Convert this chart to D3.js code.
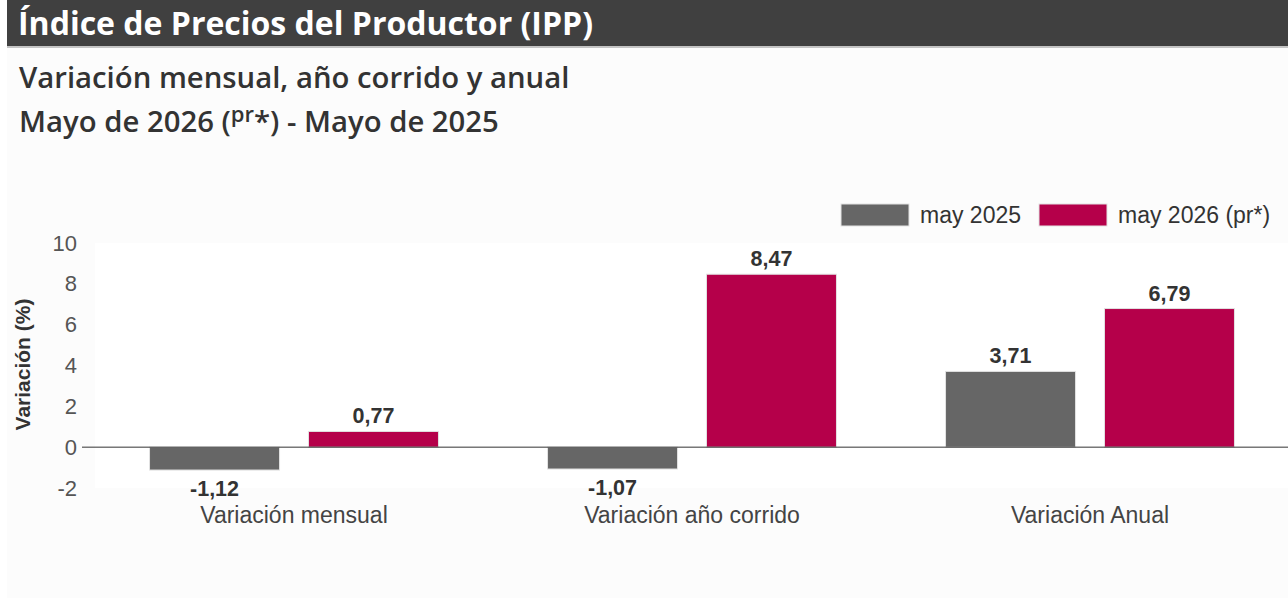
<!DOCTYPE html>
<html>
<head>
<meta charset="utf-8">
<script src="https://cdn.jsdelivr.net/npm/d3@7"></script>
<style>
  html, body { margin: 0; padding: 0; background: #ffffff; }
  svg { display: block; }
</style>
</head>
<body>
<div id="chart"></div>
<script>
// data
const categories = ["Variación mensual", "Variación año corrido", "Variación Anual"];
const seriesNames = ["may 2025", "may 2026 (pr*)"];
const values2025 = [-1.12, -1.07, 3.71];
const values2026 = [0.77, 8.47, 6.79];
const yTicks = [-2, 0, 2, 4, 6, 8, 10];

const WIDTH = 1288, HEIGHT = 598;
const colors = ["#666666", "#b5004a"];

const locale = d3.formatLocale({ decimal: ",", thousands: ".", grouping: [3], currency: ["$", ""], minus: "-" });
const fmt = locale.format(".2f");
const fmtTick = locale.format("d");

let svg = d3.select("#chart")
    .append("svg")
    .attr("width", WIDTH)
    .attr("height", HEIGHT);

// panel background
svg.append("rect")
    .attr("x", 7).attr("y", 0)
    .attr("width", WIDTH - 7).attr("height", HEIGHT)
    .attr("fill", "#fcfcfc");

// title bar
svg.append("rect")
    .attr("x", 7).attr("y", 0)
    .attr("width", WIDTH - 7).attr("height", 46)
    .attr("fill", "#404040");
svg.append("rect")
    .attr("x", 7).attr("y", 46)
    .attr("width", WIDTH - 7).attr("height", 2)
    .attr("fill", "#c4c4c4");

svg.append("text")
    .attr("x", 18).attr("y", 35)
    .attr("fill", "#ffffff")
    .style("font-family", "'Open Sans', sans-serif")
    .style("font-weight", 700)
    .style("font-size", "32px")
    .text("Índice de Precios del Productor (IPP)");

// subtitle
let sub = svg.append("g")
    .style("font-family", "'Open Sans', sans-serif")
    .style("font-weight", 600)
    .style("font-size", "29.3px")
    .attr("fill", "#333333");

sub.append("text").attr("x", 19).attr("y", 88)
    .text("Variación mensual, año corrido y anual");

let line2 = sub.append("text").attr("x", 19).attr("y", 132);
line2.append("tspan").text("Mayo de 2026 (");
line2.append("tspan").attr("dy", -10).style("font-size", "22px").text("pr");
line2.append("tspan").attr("dy", 10).text("*) - Mayo de 2025");

// scales
let x0 = d3.scaleBand()
    .domain(categories)
    .range([95, 1289])
    .paddingInner(0.274)
    .paddingOuter(0.137);

let x1 = d3.scaleBand()
    .domain(seriesNames)
    .range([0, x0.bandwidth()])
    .paddingInner(0.182);

let y = d3.scaleLinear()
    .domain([-2, 10])
    .range([488, 243]);

// plot area
svg.append("rect")
    .attr("x", 95).attr("y", y(10))
    .attr("width", WIDTH - 95).attr("height", y(-2) - y(10))
    .attr("fill", "#ffffff");

// y axis
let yAxis = svg.append("g")
    .attr("transform", "translate(77,0)")
    .call(d3.axisLeft(y).tickValues(yTicks).tickFormat(fmtTick).tickSize(0).tickPadding(0));
yAxis.select(".domain").remove();
yAxis.selectAll("text")
    .attr("fill", "#555555")
    .style("font-family", "'Liberation Sans', Arial, sans-serif")
    .style("font-size", "22px");

svg.append("text")
    .attr("transform", `translate(30,${(y(10) + y(-2)) / 2 - 1}) rotate(-90)`)
    .attr("text-anchor", "middle")
    .attr("fill", "#333333")
    .style("font-family", "'Liberation Sans', Arial, sans-serif")
    .style("font-weight", 700)
    .style("font-size", "21px")
    .text("Variación (%)");

// bars
let rows = categories.map((c, i) => ({
    category: c,
    values: [
        { series: seriesNames[0], value: values2025[i], color: colors[0] },
        { series: seriesNames[1], value: values2026[i], color: colors[1] }
    ]
}));

let group = svg.selectAll(".group")
    .data(rows)
    .enter()
    .append("g")
    .classed("group", true)
    .attr("transform", d => `translate(${x0(d.category)},0)`);

group.selectAll("rect")
    .data(d => d.values)
    .enter()
    .append("rect")
    .attr("x", d => x1(d.series))
    .attr("width", x1.bandwidth())
    .attr("y", d => y(Math.max(0, d.value)))
    .attr("height", d => Math.abs(y(d.value) - y(0)))
    .attr("fill", d => d.color)
    .attr("stroke", "#e2e2e2")
    .attr("stroke-width", 1);

group.selectAll(".label")
    .data(d => d.values)
    .enter()
    .append("text")
    .classed("label", true)
    .attr("x", d => x1(d.series) + x1.bandwidth() / 2)
    .attr("y", d => d.value >= 0 ? y(d.value) - 8 : y(d.value) + 26)
    .attr("text-anchor", "middle")
    .attr("fill", "#333333")
    .style("font-family", "'Liberation Sans', Arial, sans-serif")
    .style("font-weight", 700)
    .style("font-size", "21.5px")
    .text(d => fmt(d.value));

// zero line
svg.append("line")
    .attr("x1", 82).attr("x2", WIDTH)
    .attr("y1", y(0)).attr("y2", y(0))
    .attr("stroke", "#333333")
    .attr("stroke-width", 1);

// category axis
let xAxis = svg.append("g")
    .attr("transform", `translate(0,${y(-2)})`)
    .call(d3.axisBottom(x0).tickSize(0).tickPadding(0));
xAxis.select(".domain").remove();
xAxis.selectAll("text")
    .attr("dy", 0)
    .attr("y", 35)
    .attr("fill", "#444444")
    .style("font-family", "'Liberation Sans', Arial, sans-serif")
    .style("font-size", "23px");

// legend
let legend = svg.append("g")
    .style("font-family", "'Liberation Sans', Arial, sans-serif")
    .style("font-size", "23px");

let legendX = [841, 1039];
seriesNames.forEach((s, i) => {
    legend.append("rect")
        .attr("x", legendX[i]).attr("y", 204)
        .attr("width", 68).attr("height", 22)
        .attr("fill", colors[i])
        .attr("stroke", "#e2e2e2");
    legend.append("text")
        .attr("x", legendX[i] + 79).attr("y", 223)
        .attr("fill", "#333333")
        .text(s);
});
</script>
</body>
</html>
